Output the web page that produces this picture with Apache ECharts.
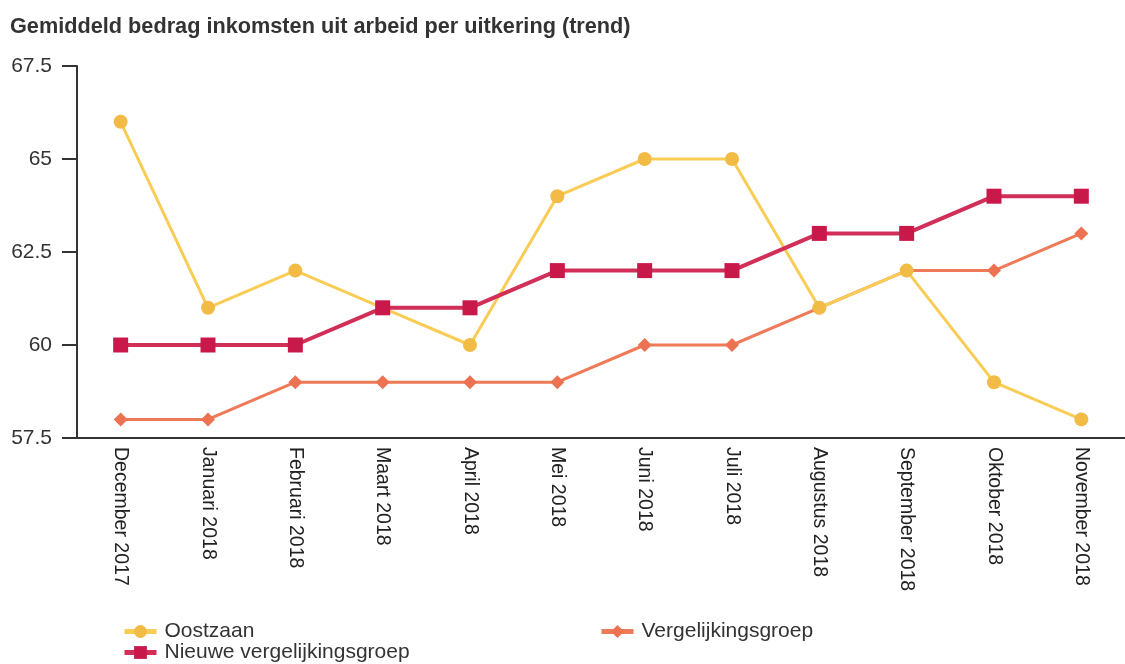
<!DOCTYPE html>
<html>
<head>
<meta charset="utf-8">
<script src="https://cdn.jsdelivr.net/npm/echarts@6/dist/echarts.min.js"></script>
<style>
html,body{margin:0;padding:0;background:#fff;}
#chart{width:1125px;height:664px;}
</style>
</head>
<body>
<div id="chart"></div>
<script>
const categories = ['December 2017','Januari 2018','Februari 2018','Maart 2018','April 2018','Mei 2018','Juni 2018','Juli 2018','Augustus 2018','September 2018','Oktober 2018','November 2018'];
const oostzaan = [66, 61, 62, 61, 60, 64, 65, 65, 61, 62, 59, 58];
const nieuweGroep = [60, 60, 60, 61, 61, 62, 62, 62, 63, 63, 64, 64];
const vergelijkingsgroep = [58, 58, 59, 59, 59, 59, 60, 60, 61, 62, 62, 63];
const yTicks = [57.5, 60, 62.5, 65, 67.5];

const chart = echarts.init(document.getElementById('chart'));
const font = '"Liberation Sans", Arial, sans-serif';
const legendText = {fontFamily: font, fontSize: 21, color: '#333', padding: [0, 0, 0, 3]};
const legendBase = {itemWidth: 32, itemHeight: 16, lineStyle: {width: 5}, textStyle: legendText};
chart.setOption({
  animation: false,
  backgroundColor: '#ffffff',
  title: {
    text: 'Gemiddeld bedrag inkomsten uit arbeid per uitkering (trend)',
    left: 5, top: 11,
    textStyle: {fontFamily: font, fontSize: 21.7, fontWeight: 'bold', color: '#333'}
  },
  grid: {left: 77, top: 66, width: 1057, bottom: 226, containLabel: false},
  legend: [
    Object.assign({left: 117, top: 616, data: ['Oostzaan']}, legendBase),
    Object.assign({left: 117, top: 637, data: ['Nieuwe vergelijkingsgroep']}, legendBase),
    Object.assign({left: 594, top: 616, data: ['Vergelijkingsgroep']}, legendBase)
  ],
  xAxis: {
    type: 'category', data: categories, boundaryGap: true,
    axisLine: {lineStyle: {color: '#333', width: 2}},
    axisTick: {show: false},
    axisLabel: {rotate: -90, interval: 0, margin: 9, fontFamily: font, fontSize: 19.5, color: '#222'},
    splitLine: {show: false}
  },
  yAxis: {
    type: 'value', min: yTicks[0], max: yTicks[yTicks.length-1], interval: 2.5,
    axisLine: {show: true, lineStyle: {color: '#333', width: 2}},
    axisTick: {show: true, inside: false, length: 15, lineStyle: {color: '#333', width: 2}},
    axisLabel: {margin: 25, fontFamily: font, fontSize: 21, color: '#333'},
    splitLine: {show: false}
  },
  series: [{
    name: 'Oostzaan', type: 'line', data: oostzaan,
    symbol: 'circle', symbolSize: 14,
    lineStyle: {color: '#f8cc55', width: 3},
    itemStyle: {color: '#f2bb45'},
    z: 3
  }, {
    name: 'Vergelijkingsgroep', type: 'line', data: vergelijkingsgroep,
    symbol: 'diamond', symbolSize: 14,
    lineStyle: {color: '#ee7a58', width: 3},
    itemStyle: {color: '#ec7252'},
    z: 2
  }, {
    name: 'Nieuwe vergelijkingsgroep', type: 'line', data: nieuweGroep,
    symbol: 'rect', symbolSize: 15,
    lineStyle: {color: '#d12e58', width: 4},
    itemStyle: {color: '#c9184a'},
    z: 4
  }]
});
</script>
</body>
</html>
